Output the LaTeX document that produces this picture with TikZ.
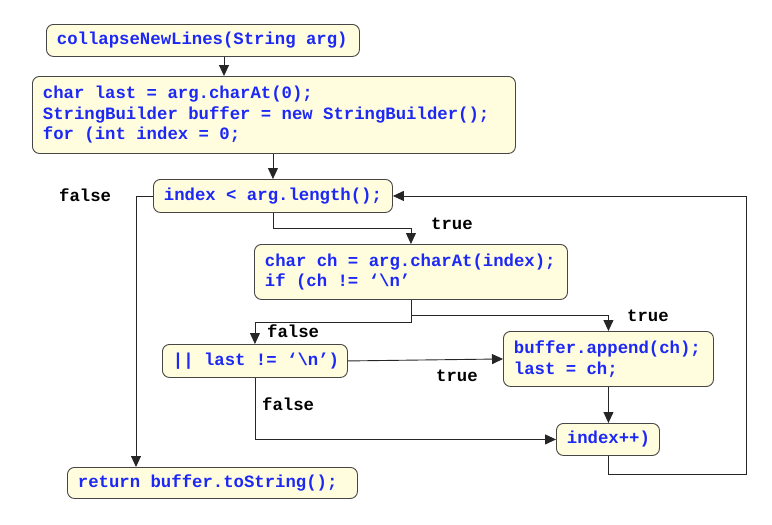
\documentclass[tikz,border=0pt]{standalone}
\usepackage{fontspec}
\newfontfamily\codefont{Liberation Mono}[BoldFont={Liberation Mono Bold}]
\usetikzlibrary{arrows.meta}
\definecolor{cream}{RGB}{255,253,222}
\definecolor{codeblue}{RGB}{28,40,245}
\definecolor{edge}{RGB}{70,70,70}
\newcommand{\bs}{\textbackslash}
\newcommand{\sk}{\hbox to 10.38pt{}}
\newcommand{\cfont}{\codefont\bfseries\fontsize{17.3}{20.5}\selectfont}
\tikzset{
  box/.style={draw=edge, line width=0.9pt, fill=cream, rounded corners=7pt,
    font=\cfont, text=codeblue,
    align=left, anchor=north west, inner xsep=10.5pt, inner ysep=0pt},
  arr/.style={draw=black!85, line width=0.9pt, -{Triangle[length=11pt,width=10pt]}},
  lbl/.style={font=\cfont, text=black, anchor=base west, inner sep=0pt}
}
\begin{document}
\begin{tikzpicture}[x=1pt,y=-1pt]
\useasboundingbox (0,0) rectangle (772,525);
% boxes
\node[box, minimum width=313pt, minimum height=32pt, text width=292pt] (n1) at (46,24)
  {\mbox{collapseNewLines(String\sk arg)}};
\node[box, minimum width=483pt, minimum height=77pt, text width=462pt] (n2) at (32,76)
  {\mbox{char\sk last\sk=\sk arg.charAt(0);}\\\mbox{StringBuilder\sk buffer\sk=\sk new\sk StringBuilder();}\\\mbox{for\sk(int\sk index\sk=\sk0;}};
\node[box, minimum width=239pt, minimum height=33pt, text width=218pt] (cond) at (153,179)
  {\mbox{index\sk<\sk arg.length();}};
\node[box, minimum width=313pt, minimum height=55pt, text width=292pt] (char) at (254,244)
  {\mbox{char\sk ch\sk=\sk arg.charAt(index);}\\\mbox{if\sk(ch\sk!=\sk‘\bs n’}};
\node[box, minimum width=185pt, minimum height=33pt, text width=164pt] (or) at (162,344)
  {\mbox{||\sk last\sk!=\sk‘\bs n’)}};
\node[box, minimum width=210pt, minimum height=55pt, text width=189pt] (buffer) at (503,331)
  {\mbox{buffer.append(ch);}\\\mbox{last\sk=\sk ch;}};
\node[box, minimum width=103pt, minimum height=32pt, text width=82pt] (index) at (556,423)
  {\mbox{index++)}};
\node[box, minimum width=290pt, minimum height=31pt, text width=269pt] (ret) at (67,467)
  {\mbox{return\sk buffer.toString();}};
% connectors
\draw[arr] ([xshift=178pt]n1.south west) coordinate (a1) -- (a1 |- n2.north);
\draw[arr] (cond.north |- n2.south) -- (cond.north);
\draw[arr] (cond.west) -- ++(-17,0) coordinate (f1) -- (f1 |- ret.north);
\draw[arr] (cond.south) -- ++(0,16) -| (char.north);
\draw[arr] (char.south) -- ++(0,23) -| (or.north);
\draw[arr] (char.south) -- ++(0,16) -| (buffer.north);
\draw[arr] (or.east) -- (buffer.west);
\draw[arr] (buffer.south) -- (buffer.south |- index.north);
\draw[arr] (or.south) |- (index.west);
\coordinate (lp) at (746,474);
\draw[arr] (index.south) |- (lp) |- (cond.east);
% labels
\node[lbl] (l1) at (59,201) {false};
\node[lbl] (l2) at (431,229) {true};
\node[lbl] (l3) at (267,337.5) {false};
\node[lbl] (l4) at (627,321.5) {true};
\node[lbl] (l5) at (436,381) {true};
\node[lbl] (l6) at (262,410) {false};
\end{tikzpicture}
\end{document}
